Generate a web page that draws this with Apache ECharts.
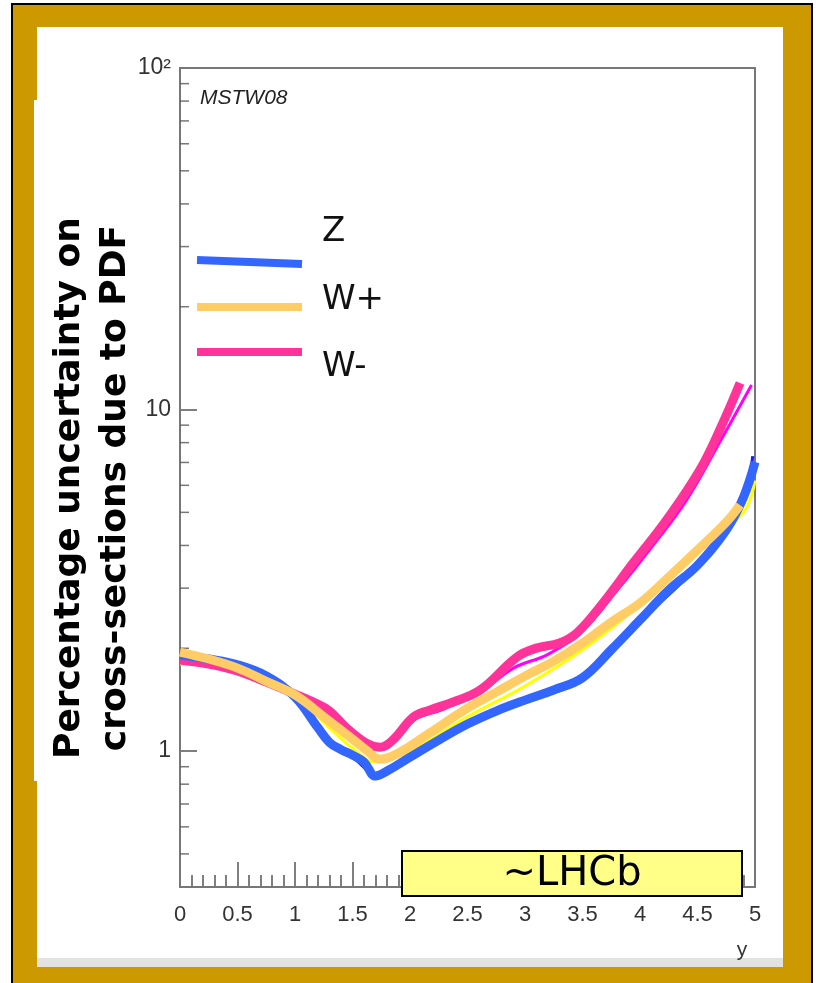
<!DOCTYPE html>
<html>
<head>
<meta charset="utf-8">
<script src="https://cdn.jsdelivr.net/npm/echarts@6/dist/echarts.min.js"></script>
<style>
html,body{margin:0;padding:0;background:#fff;}
#chart{width:816px;height:983px;}
</style>
</head>
<body>
<div id="chart"></div>
<script>
// ---- data ----
// thick highlighted curves
var zX = [0, 0.25, 0.5, 0.75, 1.0, 1.2, 1.3, 1.4, 1.5, 1.6, 1.7, 1.8, 2.0, 2.25, 2.5, 2.75, 3.0, 3.25, 3.5, 3.75, 4.0, 4.25, 4.5, 4.75, 4.9, 5.0];
var zY = [1.91, 1.86, 1.79, 1.66, 1.44, 1.17, 1.06, 1.01, 0.973, 0.929, 0.845, 0.874, 0.96, 1.077, 1.20, 1.31, 1.41, 1.51, 1.64, 1.98, 2.42, 2.96, 3.5, 4.44, 5.54, 7.02];

var wpX = [0, 0.25, 0.5, 0.75, 1.0, 1.25, 1.5, 1.62, 1.74, 1.9, 2.17, 2.5, 2.75, 3.0, 3.25, 3.5, 3.75, 4.0, 4.25, 4.5, 4.75, 4.87];
var wpY = [1.95, 1.86, 1.75, 1.60, 1.46, 1.26, 1.084, 1.007, 0.947, 0.987, 1.129, 1.336, 1.488, 1.658, 1.834, 2.072, 2.386, 2.713, 3.232, 3.878, 4.684, 5.253];

var wmX = [0, 0.25, 0.5, 0.75, 1.0, 1.16, 1.3, 1.44, 1.62, 1.74, 1.85, 2.03, 2.17, 2.37, 2.61, 2.93, 3.1, 3.3, 3.45, 3.65, 3.94, 4.23, 4.52, 4.72, 4.87];
var wmY = [1.847, 1.798, 1.715, 1.592, 1.469, 1.391, 1.31, 1.176, 1.055, 1.027, 1.077, 1.258, 1.318, 1.391, 1.509, 1.885, 2.002, 2.072, 2.216, 2.641, 3.552, 4.747, 6.649, 9.13, 11.96];

// thin original curves underneath
var thinZX = [0, 0.5, 1.0, 1.3, 1.5, 1.7, 2.0, 2.5, 3.0, 3.5, 4.0, 4.5, 4.9, 4.98];
var thinZY = [1.86, 1.76, 1.42, 1.05, 0.96, 0.86, 0.96, 1.19, 1.40, 1.62, 2.40, 3.5, 5.6, 7.3];
var thinWpX = [0, 0.5, 1.0, 1.3, 1.5, 1.7, 2.0, 2.5, 3.0, 3.5, 4.0, 4.5, 4.9, 5.0];
var thinWpY = [1.80, 1.72, 1.44, 1.17, 1.02, 0.93, 1.00, 1.26, 1.55, 1.98, 2.68, 3.8, 5.0, 6.2];
var thinWmX = [0, 0.5, 1.0, 1.3, 1.5, 1.74, 2.0, 2.3, 2.6, 2.9, 3.2, 3.5, 3.8, 4.1, 4.4, 4.7, 4.97];
var thinWmY = [1.82, 1.70, 1.46, 1.30, 1.12, 1.02, 1.22, 1.33, 1.48, 1.75, 1.92, 2.25, 2.95, 3.95, 5.4, 8.1, 11.8];

var seriesNames = ['Z', 'W+', 'W-'];
var yMinorTicks = [0.5, 0.6, 0.7, 0.8, 0.9, 2, 3, 4, 5, 6, 7, 8, 9, 20, 30, 40, 50, 60, 70, 80, 90];
var xTickInterval = 0.5;
var yTitle1 = 'Percentage uncertainty on';
var yTitle2 = 'cross-sections due to PDF';

function pairs(xs, ys) { return xs.map(function (x, i) { return [x, ys[i]]; }); }

var chart = echarts.init(document.getElementById('chart'), null, {renderer: 'canvas'});

var GOLD = '#cc9900';
function thick(name, xs, ys, color, z) {
  return {type: 'line', name: name, data: pairs(xs, ys), smooth: 0.4, showSymbol: false, z: z,
    lineStyle: {color: color, width: 9}};
}
function thin(name, xs, ys, color) {
  return {type: 'line', name: name, data: pairs(xs, ys), smooth: 0.4, showSymbol: false, z: 3,
    lineStyle: {color: color, width: 3}};
}
var option = {
  animation: false,
  backgroundColor: '#ffffff',
  grid: {left: 180, top: 68, width: 575, height: 819, show: true, borderColor: '#777', borderWidth: 2, backgroundColor: 'transparent', z: 1},
  xAxis: {
    type: 'value', min: 0, max: 5, interval: xTickInterval,
    axisLine: {show: true, lineStyle: {color: '#777', width: 2}},
    axisTick: {show: true, inside: true, length: 25, lineStyle: {color: '#555', width: 1.5}},
    minorTick: {show: true, splitNumber: 5, length: 12, lineStyle: {color: '#555', width: 1.5}},
    splitLine: {show: false},
    axisLabel: {fontFamily: 'Liberation Sans', fontSize: 22, color: '#333', margin: 17,
      formatter: function (v) { return String(v); }}
  },
  yAxis: {
    type: 'log', logBase: 10, min: 0.4, max: 100,
    axisLine: {show: true, lineStyle: {color: '#777', width: 2}},
    axisTick: {show: true, inside: true, length: 17, lineStyle: {color: '#555', width: 1.5}},
    minorTick: {show: false},
    splitLine: {show: false},
    axisLabel: {fontFamily: 'Liberation Sans', fontSize: 23, color: '#333', margin: 9,
      formatter: function (v) {
        var l = Math.log(v) / Math.LN10;
        if (Math.abs(l - Math.round(l)) > 1e-6) return '';
        if (Math.round(l) === 2) return '10²';
        return String(Math.round(v));
      }}
  },
  series: [
    {
      type: 'scatter', name: 'yminor', silent: true, z: 3,
      data: yMinorTicks.map(function (v) { return [0, v]; }),
      symbol: 'rect', symbolSize: [9, 1.5], symbolOffset: [4.5, 0],
      itemStyle: {color: '#555'}
    },
    thin('Z (thin)', thinZX, thinZY, '#1a1aff'),
    thin('W+ (thin)', thinWpX, thinWpY, '#ffff00'),
    thin('W- (thin)', thinWmX, thinWmY, '#ff00ff'),
    thick(seriesNames[2], wmX, wmY, '#ff3399', 4),
    thick(seriesNames[0], zX, zY, '#3366ff', 5),
    thick(seriesNames[1], wpX, wpY, '#ffcc66', 6)
  ],
  graphic: [
    // frame
    {type: 'rect', z: -10, shape: {x: 12, y: 4, width: 800, height: 990}, style: {fill: GOLD, stroke: '#000', lineWidth: 2}},
    {type: 'rect', z: -9, shape: {x: 37, y: 27, width: 746, height: 931}, style: {fill: '#fff'}},
    {type: 'rect', z: -9, shape: {x: 34, y: 100, width: 10, height: 681}, style: {fill: '#fff'}},
    {type: 'rect', z: -9, shape: {x: 37, y: 958, width: 746, height: 9}, style: {fill: '#e2e2e2'}},
    // y axis title
    {type: 'text', z: 20, x: 70, y: 488, rotation: Math.PI / 2,
      style: {text: yTitle1, font: 'bold 36px "DejaVu Sans"', fill: '#000', align: 'center', verticalAlign: 'middle'}},
    {type: 'text', z: 20, x: 116, y: 488, rotation: Math.PI / 2,
      style: {text: yTitle2, font: 'bold 36px "DejaVu Sans"', fill: '#000', align: 'center', verticalAlign: 'middle'}},
    // MSTW08
    {type: 'text', z: 20, x: 200, y: 98,
      style: {text: 'MSTW08', font: 'italic 21px "Liberation Sans"', fill: '#222', align: 'left', verticalAlign: 'middle'}},
    // legend
    {type: 'line', z: 20, shape: {x1: 197, y1: 260, x2: 302, y2: 264}, style: {stroke: '#3366ff', lineWidth: 8}},
    {type: 'line', z: 20, shape: {x1: 197, y1: 307, x2: 302, y2: 307}, style: {stroke: '#ffcc66', lineWidth: 8}},
    {type: 'line', z: 20, shape: {x1: 197, y1: 352, x2: 302, y2: 352}, style: {stroke: '#ff3399', lineWidth: 8}},
    {type: 'text', z: 20, x: 322, y: 232, style: {text: seriesNames[0], font: '34px "DejaVu Sans"', fill: '#111', align: 'left', verticalAlign: 'middle'}},
    {type: 'text', z: 20, x: 322, y: 300, style: {text: seriesNames[1], font: '34px "DejaVu Sans"', fill: '#111', align: 'left', verticalAlign: 'middle'}},
    {type: 'text', z: 20, x: 322, y: 367, style: {text: seriesNames[2], font: '34px "DejaVu Sans"', fill: '#111', align: 'left', verticalAlign: 'middle'}},
    // LHCb box
    {type: 'rect', z: 30, shape: {x: 402, y: 851, width: 340, height: 45}, style: {fill: '#ffff88', stroke: '#000', lineWidth: 2}},
    {type: 'text', z: 31, x: 572, y: 875, style: {text: '~LHCb', font: '40px "DejaVu Sans"', fill: '#000', align: 'center', verticalAlign: 'middle'}},
    // x axis name
    {type: 'text', z: 20, x: 742, y: 950, style: {text: 'y', font: '21px "Liberation Sans"', fill: '#333', align: 'center', verticalAlign: 'middle'}}
  ]
};
chart.setOption(option);
</script>
</body>
</html>
